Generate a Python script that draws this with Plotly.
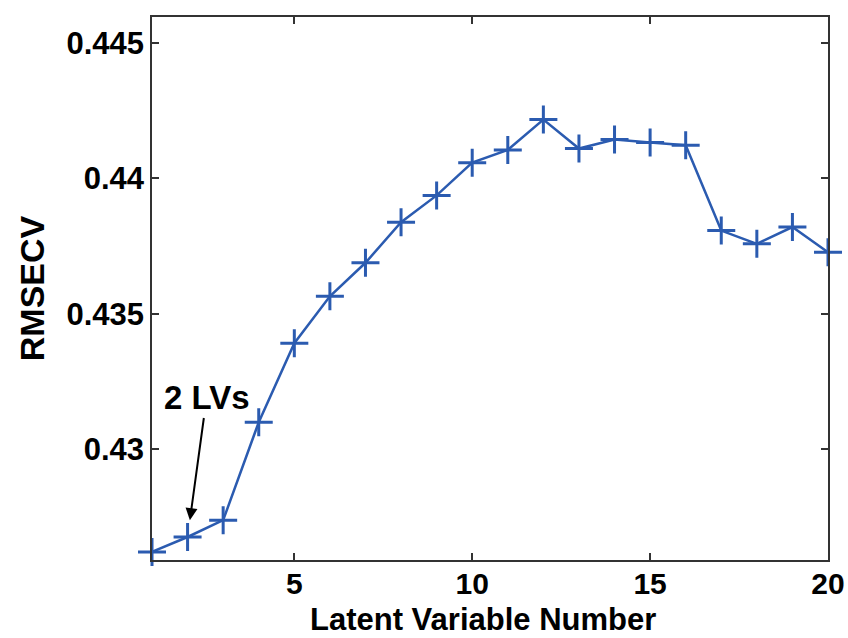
import plotly.graph_objects as go

lv = list(range(1, 21))
rmsecv = [0.42620, 0.42675, 0.42737, 0.43099, 0.43391, 0.43564, 0.43688, 0.43838,
          0.43937, 0.44058, 0.44105, 0.44217, 0.44110, 0.44143, 0.44132, 0.44122,
          0.43807, 0.43758, 0.43820, 0.43727]
xticks = [5, 10, 15, 20]
yticks = [0.43, 0.435, 0.44, 0.445]
yticklabels = ["0.43", "0.435", "0.44", "0.445"]
x_title = "Latent Variable Number"
y_title = "RMSECV"

blue = "#2B5BB0"
font_family = "Liberation Sans, Arial, sans-serif"

W, H = 848, 638
ML, MR, MT, MB = 152, 20, 17, 78
plot_h = H - MT - MB

fig = go.Figure()
fig.add_trace(go.Scatter(
    x=lv, y=rmsecv, mode="lines+markers",
    line=dict(color=blue, width=2.5),
    marker=dict(symbol="cross-thin", size=20, line=dict(color=blue, width=3)),
    cliponaxis=False, showlegend=False,
))

fig.add_annotation(
    x=2, y=rmsecv[1], ax=19, ay=-139, text="2 LVs",
    showarrow=True, arrowhead=2, arrowsize=1.2, arrowwidth=2, arrowcolor="black",
    standoff=17, font=dict(family=font_family, size=33, color="black", weight="bold"),
)

# x-axis title placed at the bottom edge, as in the reference
fig.add_annotation(
    xref="paper", yref="paper", x=0.49, y=-MB / plot_h,
    xanchor="center", yanchor="bottom", showarrow=False, borderpad=0,
    text=x_title, font=dict(family=font_family, size=31, color="black", weight="bold"),
)

axis_common = dict(
    showline=True, linecolor="#333333", linewidth=1.5, mirror="ticks",
    ticks="inside", ticklen=7, tickwidth=1.5, tickcolor="#333333",
    showgrid=False, zeroline=False, automargin=False,
    tickfont=dict(family=font_family, size=31, color="black", weight="bold"),
)

fig.update_xaxes(range=[1, 20], tickvals=xticks, **axis_common)
fig.update_xaxes(tickfont_size=30, ticklabelstandoff=-4)
fig.update_yaxes(
    range=[0.4259, 0.44596], tickvals=yticks, ticktext=yticklabels,
    title=dict(text=y_title, standoff=12,
               font=dict(family=font_family, size=34, color="black", weight="bold")),
    **axis_common,
)

fig.update_layout(
    width=W, height=H,
    margin=dict(l=ML, r=MR, t=MT, b=MB),
    paper_bgcolor="white", plot_bgcolor="white",
)

fig.write_html("out.html")
